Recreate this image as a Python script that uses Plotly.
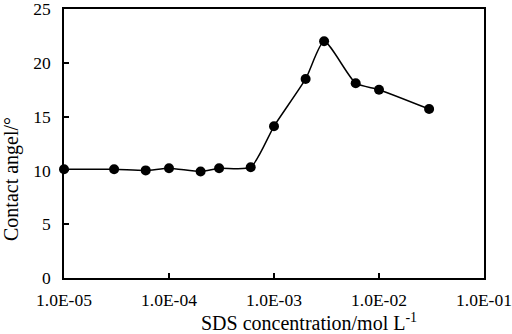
import plotly.graph_objects as go

conc = [1e-5, 3e-5, 6e-5, 1e-4, 2e-4, 3e-4, 6e-4, 1e-3, 2e-3, 3e-3, 6e-3, 1e-2, 3e-2]
angle = [10.1, 10.1, 10.0, 10.2, 9.9, 10.2, 10.3, 14.1, 18.5, 22.0, 18.1, 17.5, 15.7]
x_tickvals = [1e-5, 1e-4, 1e-3, 1e-2, 1e-1]
x_ticktext = ["1.0E-05", "1.0E-04", "1.0E-03", "1.0E-02", "1.0E-01"]
y_tickvals = [0, 5, 10, 15, 20, 25]
x_title = "SDS concentration/mol L<sup>-1</sup>"
y_title = "Contact angel/°"

W, H = 512, 334
L, R, T, B = 64, 28, 9, 56

fig = go.Figure()
fig.add_trace(go.Scatter(
    x=conc, y=angle, mode="lines+markers",
    line=dict(color="black", width=1.5, shape="spline", smoothing=0.6),
    marker=dict(color="black", size=10),
    showlegend=False, cliponaxis=False,
))

font = dict(family="Liberation Serif, Times New Roman, serif", color="black", size=17.5)
fig.update_layout(
    width=W, height=H,
    margin=dict(l=L, r=R, t=T, b=B, autoexpand=False),
    paper_bgcolor="white", plot_bgcolor="white",
    font=font,
    xaxis=dict(
        type="log", range=[-5, -1], automargin=False,
        tickvals=x_tickvals, ticktext=x_ticktext,
        ticks="inside", ticklen=5, tickwidth=1.5, tickcolor="black",
        showline=True, linecolor="black", linewidth=1.5, mirror=True,
        showgrid=False, zeroline=False, ticklabelstandoff=5,
        ticklabeloverflow="allow", tickfont=dict(size=17.5),
    ),
    yaxis=dict(
        range=[0, 25], tickvals=y_tickvals, automargin=False,
        ticks="inside", ticklen=5, tickwidth=1.5, tickcolor="black",
        showline=True, linecolor="black", linewidth=1.5, mirror=True,
        showgrid=False, zeroline=False, ticklabelstandoff=8,
        ticklabeloverflow="allow", tickfont=dict(size=17.5),
    ),
    annotations=[
        dict(text=x_title, xref="paper", yref="paper",
             x=(309 - L) / (W - L - R), y=-(322 - (H - B)) / (H - T - B),
             xanchor="center", yanchor="middle", showarrow=False,
             font=dict(size=20)),
        dict(text=y_title, xref="paper", yref="paper",
             x=-(L - 11) / (W - L - R), y=(H - B - 179) / (H - T - B),
             xanchor="center", yanchor="middle", showarrow=False, textangle=-90,
             font=dict(size=20)),
    ],
)
fig.write_html("out.html", config={"displayModeBar": False},
               post_script="document.body.style.margin='0';document.body.style.overflow='hidden';")
